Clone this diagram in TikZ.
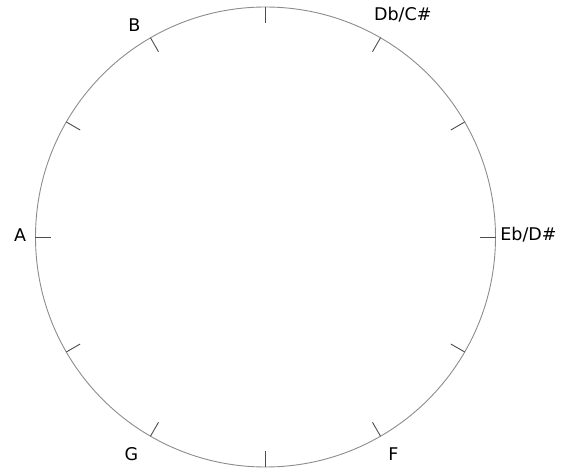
\documentclass[tikz,border=0pt]{standalone}
\usepackage{fontspec}
\setmainfont{DejaVu Sans}
\usetikzlibrary{positioning,calc}

\begin{document}
\begin{tikzpicture}[x=1pt,y=1pt,font=\fontsize{17.5}{20}\selectfont]
  \tikzset{
    wheel/.style={draw=black!45, line width=0.9pt},
    tick/.style={draw=black!70, line width=0.9pt},
    note/.style={anchor=base, inner sep=0pt, text=black}
  }

  \useasboundingbox (-265.5,-236) rectangle (299.5,237);

  \coordinate (c) at (0,0);
  \draw[wheel] (c) circle (230);

  \foreach \a in {0,30,...,330}
    \draw[tick] (\a:230) -- (\a:214);

  \node[note] (b) at (-131,205.3) {B};
  \node[note] (dbcs) at (137.3,216.3) {Db/C\#};
  \node[note] (a) at (-245.5,-4.7) {A};
  \node[note] (ebds) at (263,-3.7) {Eb/D\#};
  \node[note] (g) at (-134.2,-223.7) {G};
  \node[note] (f) at (128,-224) {F};
\end{tikzpicture}
\end{document}
